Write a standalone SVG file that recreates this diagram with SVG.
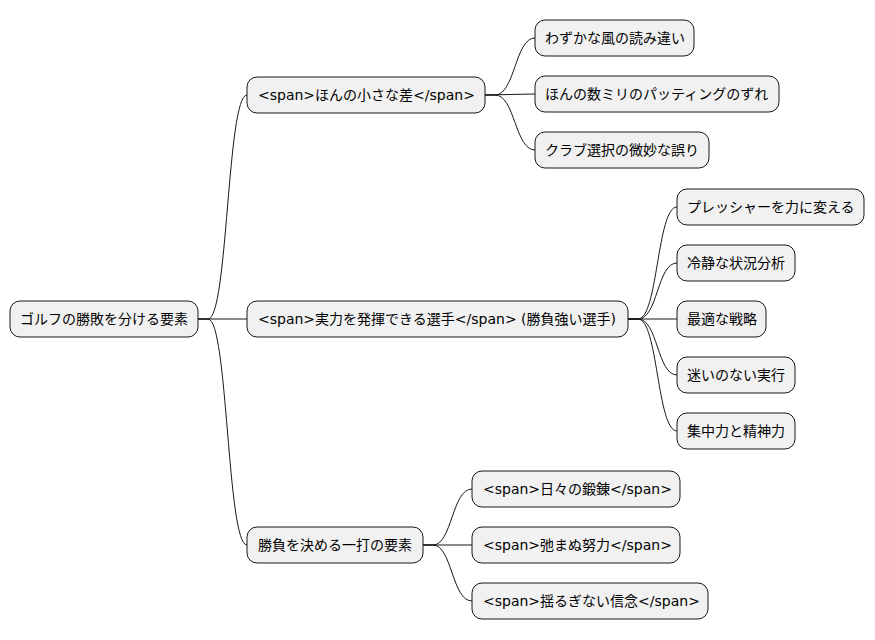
<svg xmlns="http://www.w3.org/2000/svg" width="875" height="640" viewBox="0 0 875 640">
<style>
rect{fill:#F1F1F1;stroke:#181818;stroke-width:1}
text{font-family:"DejaVu Sans","Noto Sans CJK JP",sans-serif;font-size:14px;fill:#000;dominant-baseline:central}
.c path{fill:none;stroke:#181818;stroke-width:1}
</style>
<rect x="0" y="0" width="875" height="640" style="fill:#fff;stroke:none"/>
<g class="c" id="connectors">
<path d="M198,319 L208,319 C228,319 227,95 247,95"/>
<path d="M198,319 L247,319"/>
<path d="M198,319 L208,319 C228,319 227,545 247,545"/>
<path d="M485,95 L495,95 C515,95 515,38 535,38"/>
<path d="M485,95 L535,94"/>
<path d="M485,95 L495,95 C515,95 515,150 535,150"/>
<path d="M628,319 L638,319 C658,319 657,207 677,207"/>
<path d="M628,319 L638,319 C658,319 657,263 677,263"/>
<path d="M628,319 L677,319"/>
<path d="M628,319 L638,319 C658,319 657,375 677,375"/>
<path d="M628,319 L638,319 C658,319 657,431 677,431"/>
<path d="M423,545 L433,545 C452,545 452,489 472,489"/>
<path d="M423,545 L472,545"/>
<path d="M423,545 L433,545 C452,545 452,601 472,601"/>
</g>
<g id="root"><rect x="10" y="301" width="188" height="36" rx="10"/><text x="20" y="319">ゴルフの勝敗を分ける要素</text></g>
<g id="a"><rect x="247" y="77" width="238" height="36" rx="10"/><text x="258" y="95">&lt;span&gt;ほんの小さな差&lt;/span&gt;</text></g>
<g id="b"><rect x="247" y="301" width="381" height="36" rx="10"/><text x="258" y="319">&lt;span&gt;実力を発揮できる選手&lt;/span&gt; (勝負強い選手)</text></g>
<g id="c"><rect x="247" y="527" width="176" height="36" rx="10"/><text x="258" y="545">勝負を決める一打の要素</text></g>
<g id="a1"><rect x="535" y="20" width="159" height="36" rx="10"/><text x="545" y="38">わずかな風の読み違い</text></g>
<g id="a2"><rect x="535" y="76" width="244" height="36" rx="10"/><text x="545" y="94">ほんの数ミリのパッティングのずれ</text></g>
<g id="a3"><rect x="535" y="132" width="174" height="36" rx="10"/><text x="545" y="150">クラブ選択の微妙な誤り</text></g>
<g id="b1"><rect x="677" y="189" width="187" height="36" rx="10"/><text x="687" y="207">プレッシャーを力に変える</text></g>
<g id="b2"><rect x="677" y="245" width="118" height="36" rx="10"/><text x="687" y="263">冷静な状況分析</text></g>
<g id="b3"><rect x="677" y="301" width="89" height="36" rx="10"/><text x="687" y="319">最適な戦略</text></g>
<g id="b4"><rect x="677" y="357" width="118" height="36" rx="10"/><text x="687" y="375">迷いのない実行</text></g>
<g id="b5"><rect x="677" y="413" width="118" height="36" rx="10"/><text x="687" y="431">集中力と精神力</text></g>
<g id="c1"><rect x="472" y="471" width="208" height="36" rx="10"/><text x="483" y="489">&lt;span&gt;日々の鍛錬&lt;/span&gt;</text></g>
<g id="c2"><rect x="472" y="527" width="208" height="36" rx="10"/><text x="483" y="545">&lt;span&gt;弛まぬ努力&lt;/span&gt;</text></g>
<g id="c3"><rect x="472" y="583" width="236" height="36" rx="10"/><text x="483" y="601">&lt;span&gt;揺るぎない信念&lt;/span&gt;</text></g>
</svg>
